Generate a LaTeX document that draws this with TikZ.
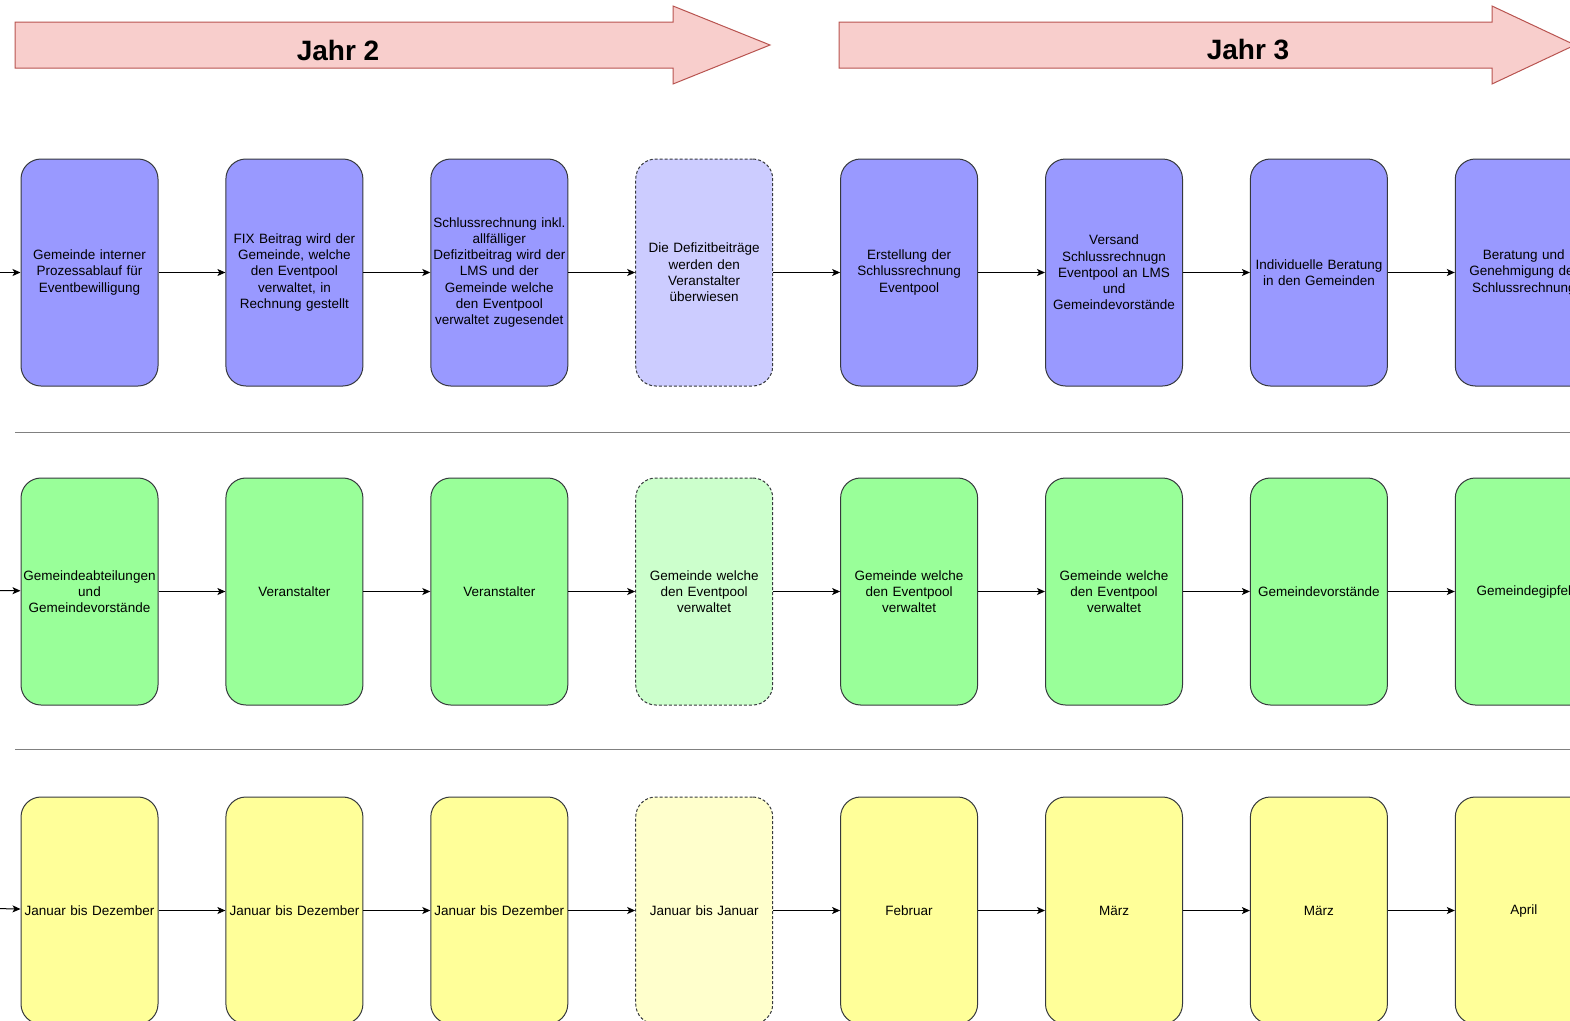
\documentclass[tikz,border=0pt]{standalone}
\usepackage{fontspec}
\setmainfont{Liberation Sans}
\usetikzlibrary{positioning,arrows.meta}
\definecolor{taskclr}{HTML}{9999FF}
\definecolor{taskoptclr}{HTML}{CCCCFF}
\definecolor{whoclr}{HTML}{99FF99}
\definecolor{whooptclr}{HTML}{CCFFCC}
\definecolor{whenclr}{HTML}{FFFF99}
\definecolor{whenoptclr}{HTML}{FFFFCC}
\definecolor{yearclr}{HTML}{F8CECC}
\definecolor{yearlineclr}{HTML}{B85450}
\definecolor{boxlineclr}{HTML}{36393D}
\tikzset{ %
  ,>={Stealth[length=8pt,width=7pt,inset=2pt]}
  ,every node/.style={font=\fontsize{13.5}{16.3}\selectfont}
  ,box/.style={draw=boxlineclr, line width=1pt, rounded corners=20pt, minimum width=137pt, minimum height=227pt, text width=135pt, inner sep=1pt, align=center, node distance=91pt and 66.9pt}
  ,task/.style={box, fill=taskclr}
  ,taskopt/.style={box, fill=taskoptclr, dash pattern=on 3pt off 2pt}
  ,who/.style={box, fill=whoclr}
  ,whoopt/.style={box, fill=whooptclr, dash pattern=on 3pt off 2pt}
  ,when/.style={box, fill=whenclr}
  ,whenopt/.style={box, fill=whenoptclr, dash pattern=on 3pt off 2pt}
  ,year/.style={draw=yearlineclr, fill=yearclr, line width=1pt}
  ,yeartxt/.style={font=\bfseries\fontsize{28}{30}\selectfont}
  ,sep/.style={draw=gray, line width=1pt}
  ,flow/.style={->, line width=1pt}
}

\begin{document}
\begin{tikzpicture}[x=1pt,y=-1pt]
      \useasboundingbox (0,0) rectangle (1570,1020);
      \clip (0,0) rectangle (1570,1020);
      % Jahre
      \draw[year] (15,22) -- (673,22) -- (673,6) -- (770,45) -- (673,84) -- (673,68) -- (15,68) -- cycle;
      \draw[year] (839,22) -- (1492,22) -- (1492,6) -- (1575,45) -- (1492,84) -- (1492,68) -- (839,68) -- cycle;
      \node[yeartxt] (j2) at (338,50) {Jahr 2};
      \node[yeartxt] (j3) at (1248,50) {Jahr 3};
      % Trennlinien
      \draw[sep] (15,432) -- (1570,432);
      \draw[sep] (15,749) -- (1570,749);
      % Was
      \draw
      node[task] (t1) at (89.5,272.5) {Gemeinde interner\\Prozessablauf für\\Eventbewilligung}
      node[task, right=of t1] (t2) {FIX Beitrag wird der\\Gemeinde, welche\\den Eventpool\\verwaltet, in\\Rechnung gestellt}
      node[task, right=of t2] (t3) {Schlussrechnung inkl.\\allfälliger\\Defizitbeitrag wird der\\LMS und der\\Gemeinde welche\\den Eventpool\\verwaltet zugesendet}
      node[taskopt, right=of t3] (t4) {Die Defizitbeiträge\\werden den\\Veranstalter\\überwiesen}
      node[task, right=of t4] (t5) {Erstellung der\\Schlussrechnung\\Eventpool}
      node[task, right=of t5] (t6) {Versand\\Schlussrechnugn\\Eventpool an LMS\\und\\Gemeindevorstände}
      node[task, right=of t6] (t7) {Individuelle Beratung\\in den Gemeinden}
      node[task, right=of t7] (t8) {Beratung und\\Genehmigung der\\Schlussrechnung};
      % Wer
      \draw
      node[who, below=of t1] (w1) {Gemeindeabteilungen\\und\\Gemeindevorstände}
      node[who, right=of w1] (w2) {Veranstalter}
      node[who, right=of w2] (w3) {Veranstalter}
      node[whoopt, right=of w3] (w4) {Gemeinde welche\\den Eventpool\\verwaltet}
      node[who, right=of w4] (w5) {Gemeinde welche\\den Eventpool\\verwaltet}
      node[who, right=of w5] (w6) {Gemeinde welche\\den Eventpool\\verwaltet}
      node[who, right=of w6] (w7) {Gemeindevorstände}
      node[who, right=of w7] (w8) {Gemeindegipfel};
      % Wann
      \draw
      node[when, below=of w1] (m1) {Januar bis Dezember}
      node[when, right=of m1] (m2) {Januar bis Dezember}
      node[when, right=of m2] (m3) {Januar bis Dezember}
      node[whenopt, right=of m3] (m4) {Januar bis Januar}
      node[when, right=of m4] (m5) {Februar}
      node[when, right=of m5] (m6) {März}
      node[when, right=of m6] (m7) {März}
      node[when, right=of m7] (m8) {April};
      \coordinate (tin) at (-5,272.5);
      \coordinate (win) at (-5,590.5);
      \coordinate (min) at (-5,908.5);
      \draw [flow] (tin) edge (t1) (t1) edge (t2) (t2) edge (t3) (t3) edge (t4) (t4) edge (t5) (t5) edge (t6) (t6) edge (t7) (t7) edge (t8);
      \draw [flow] (win) edge (w1) (w1) edge (w2) (w2) edge (w3) (w3) edge (w4) (w4) edge (w5) (w5) edge (w6) (w6) edge (w7) (w7) edge (w8);
      \draw [flow] (min) edge (m1) (m1) edge (m2) (m2) edge (m3) (m3) edge (m4) (m4) edge (m5) (m5) edge (m6) (m6) edge (m7) (m7) edge (m8);
    \end{tikzpicture}
\end{document}
